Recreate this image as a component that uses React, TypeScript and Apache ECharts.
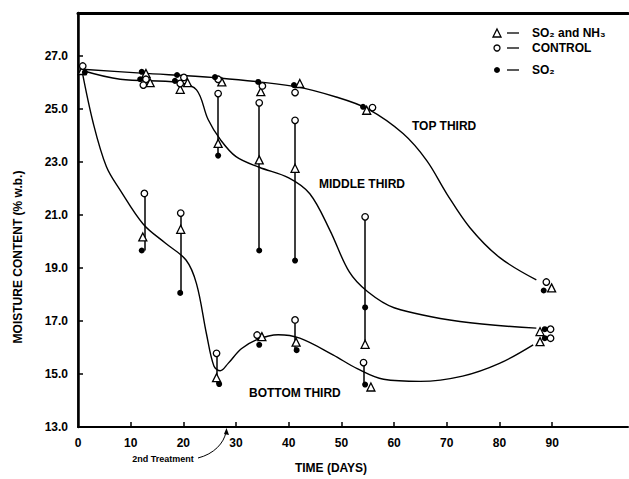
import React, { useEffect, useRef } from "react";
import * as echarts from "echarts";

// ---------- data (days, moisture % w.b.) ----------
const xTickValues = [0, 10, 20, 30, 40, 50, 60, 70, 80, 90];
const yTickValues = [13, 15, 17, 19, 21, 23, 25, 27];

// Top third markers (first point = day 0, shared start)
const topControl = [[0.9, 26.62], [12.9, 26.12], [20.1, 26.19], [26.6, 26.12], [35.0, 25.87], [41.2, 25.62], [55.9, 25.05], [88.9, 18.47]];
const topNH3 = [[0.8, 26.45], [12.9, 26.34], [20.8, 25.99], [27.3, 26.02], [34.7, 25.65], [42.1, 25.96], [54.8, 24.95], [89.9, 18.25]];
const topSO2 = [[1.3, 26.38], [12.1, 26.4], [18.8, 26.28], [26.0, 26.2], [34.2, 26.02], [41.0, 25.9], [54.1, 25.08], [88.4, 18.15]];

// Middle third markers
const midControl = [[12.4, 25.9], [19.4, 25.96], [26.6, 25.58], [34.4, 25.23], [41.2, 24.57], [54.5, 20.93], [89.7, 16.69]];
const midNH3 = [[13.7, 25.99], [19.4, 25.74], [26.6, 23.7], [34.4, 23.08], [41.2, 22.76], [54.5, 16.12], [87.7, 16.6]];
const midSO2 = [[11.8, 26.12], [18.4, 26.06], [26.6, 23.24], [34.4, 19.66], [41.2, 19.28], [54.5, 17.51], [88.6, 16.69]];

// Bottom third markers
const botControl = [[12.6, 21.81], [19.5, 21.07], [26.3, 15.78], [34.0, 16.47], [41.2, 17.04], [54.2, 15.43], [89.7, 16.35]];
const botNH3 = [[12.3, 20.17], [19.5, 20.46], [26.3, 14.86], [34.9, 16.41], [41.4, 16.2], [55.6, 14.51], [87.7, 16.22]];
const botSO2 = [[12.1, 19.66], [19.4, 18.06], [26.8, 14.62], [34.4, 16.1], [41.5, 15.9], [54.5, 14.6], [88.6, 16.35]];

// which measurement days carry a vertical range bar
const midBarIdx = [2, 3, 4, 5];
const botBarIdx = [0, 1, 2, 4, 5];

// hand-drawn trend curves
const topCurve = [[0.8, 26.5], [12, 26.35], [26, 26.18], [41, 25.85], [49, 25.45], [55, 25.0], [61.7, 24.07], [66.2, 23.05], [70, 21.8], [74.4, 20.52], [80, 19.4], [87, 18.55]];
const midCurve = [[0.8, 26.45], [8, 26.12], [19, 26.0], [22.5, 25.72], [24.7, 24.6], [27, 23.85], [30, 23.2], [34.4, 22.8], [40, 22.4], [44, 21.8], [47.8, 20.43], [51.5, 18.85], [55, 18.1], [60, 17.5], [72.5, 16.98], [87, 16.73]];
const botCurve = [[0.7, 26.5], [2.9, 24.46], [5.4, 22.82], [8, 21.94], [12.4, 20.65], [16.5, 19.95], [20.5, 19.3], [22.5, 18.4], [24.4, 16.5], [25.8, 15.3], [27, 15.12], [28.5, 15.4], [31, 15.95], [34, 16.3], [38, 16.48], [42.1, 16.35], [48.4, 15.72], [53, 15.2], [58, 14.8], [65, 14.72], [73, 14.92], [80, 15.4], [86.4, 16.1]];

const FONT = '"Liberation Sans", Arial, sans-serif';

function bars(ctrl: number[][], nh3: number[][], so2: number[][], idx: number[]) {
  return idx.map((i) => {
    const vals = [ctrl[i][1], nh3[i][1], so2[i][1]];
    return { coords: [[ctrl[i][0], Math.max(...vals)], [ctrl[i][0], Math.min(...vals)]] };
  });
}

function txt(text: string, x: number, y: number, size: number, align = "left", rotation = 0) {
  return {
    type: "text",
    x,
    y,
    rotation,
    silent: true,
    style: {
      text,
      fill: "#000",
      font: `bold ${size}px ${FONT}`,
      textAlign: align,
      align,
      textVerticalAlign: "middle",
      verticalAlign: "middle",
    },
  };
}

export default function App() {
  const ref = useRef<HTMLDivElement>(null);
  useEffect(() => {
    const chart = echarts.init(ref.current!, null, { renderer: "svg" });
    const curveSeries = (data: number[][]) => ({
      type: "line",
      data,
      smooth: 0.35,
      symbol: "none",
      lineStyle: { color: "#000", width: 1.4 },
      z: 1,
      silent: true,
    });
    const option: any = {
      animation: false,
      backgroundColor: "#fff",
      grid: { left: 78, right: 1, top: 13, bottom: 52 },
      xAxis: [
        {
          type: "value",
          min: 0,
          max: 104.4,
          interval: 10,
          position: "bottom",
          axisLine: { lineStyle: { color: "#000", width: 2 } },
          axisTick: { inside: true, length: 5, customValues: xTickValues.slice(1), lineStyle: { color: "#000", width: 1.5 } },
          axisLabel: { customValues: xTickValues, color: "#000", fontWeight: "bold", fontSize: 12, fontFamily: FONT, margin: 10 },
          splitLine: { show: false },
        },
        {
          type: "value",
          min: 0,
          max: 104.4,
          position: "top",
          axisLine: { lineStyle: { color: "#000", width: 3 } },
          axisTick: { show: false },
          axisLabel: { show: false },
          splitLine: { show: false },
        },
      ],
      yAxis: [
        {
          type: "value",
          min: 13,
          max: 28.62,
          position: "left",
          axisLine: { lineStyle: { color: "#000", width: 2.5 } },
          axisTick: { inside: true, length: 5, customValues: yTickValues, lineStyle: { color: "#000", width: 1.5 } },
          axisLabel: {
            customValues: yTickValues,
            formatter: (v: number) => v.toFixed(1),
            color: "#000",
            fontWeight: "bold",
            fontSize: 12,
            fontFamily: FONT,
            margin: 10,
          },
          splitLine: { show: false },
        },
        {
          type: "value",
          min: 13,
          max: 28.62,
          position: "right",
          axisLine: { lineStyle: { color: "#000", width: 1.5 } },
          axisTick: { show: false },
          axisLabel: { show: false },
          splitLine: { show: false },
        },
      ],
      series: [
        curveSeries(topCurve),
        curveSeries(midCurve),
        curveSeries(botCurve),
        {
          type: "lines",
          coordinateSystem: "cartesian2d",
          data: [...bars(midControl, midNH3, midSO2, midBarIdx), ...bars(botControl, botNH3, botSO2, botBarIdx)],
          lineStyle: { color: "#000", width: 1.5, opacity: 1 },
          z: 2,
          silent: true,
        },
        {
          name: "SO₂ and NH₃",
          type: "scatter",
          data: [...topNH3, ...midNH3, ...botNH3],
          symbol: "triangle",
          symbolSize: 8,
          itemStyle: { color: "#fff", borderColor: "#000", borderWidth: 1.3, opacity: 1 },
          z: 3,
          silent: true,
        },
        {
          name: "CONTROL",
          type: "scatter",
          data: [...topControl, ...midControl, ...botControl],
          symbol: "circle",
          symbolSize: 6.5,
          itemStyle: { color: "#fff", borderColor: "#000", borderWidth: 1.3, opacity: 1 },
          z: 3,
          silent: true,
        },
        {
          name: "SO₂",
          type: "scatter",
          data: [...topSO2, ...midSO2, ...botSO2],
          symbol: "circle",
          symbolSize: 6,
          itemStyle: { color: "#000", opacity: 1 },
          z: 4,
          silent: true,
        },
      ],
      graphic: [
        // legend
        { type: "polygon", silent: true, shape: { points: [[497, 29], [501, 37], [493, 37]] }, style: { fill: "#fff", stroke: "#000", lineWidth: 1.3 } },
        { type: "line", silent: true, shape: { x1: 507, y1: 33, x2: 519, y2: 33 }, style: { stroke: "#000", lineWidth: 1.3 } },
        txt("SO₂ and NH₃", 532, 33, 12),
        { type: "circle", silent: true, shape: { cx: 497, cy: 48, r: 3 }, style: { fill: "#fff", stroke: "#000", lineWidth: 1.3 } },
        { type: "line", silent: true, shape: { x1: 507, y1: 48, x2: 519, y2: 48 }, style: { stroke: "#000", lineWidth: 1.3 } },
        txt("CONTROL", 532, 48, 12),
        { type: "circle", silent: true, shape: { cx: 497, cy: 70, r: 3 }, style: { fill: "#000" } },
        { type: "line", silent: true, shape: { x1: 507, y1: 70, x2: 519, y2: 70 }, style: { stroke: "#000", lineWidth: 1.3 } },
        txt("SO₂", 532, 70, 12),
        // curve labels
        txt("TOP THIRD", 412, 126, 12),
        txt("MIDDLE THIRD", 319, 184, 12),
        txt("BOTTOM THIRD", 249, 393, 12),
        // axis titles
        txt("MOISTURE CONTENT (% w.b.)", 18, 257, 12, "center", Math.PI / 2),
        txt("TIME (DAYS)", 331, 468, 12, "center"),
        // 2nd treatment annotation
        txt("2nd Treatment", 163, 459, 9, "center"),
        {
          type: "bezierCurve",
          silent: true,
          shape: { x1: 198, y1: 458, x2: 226, y2: 432, cpx1: 214, cpy1: 454, cpx2: 224, cpy2: 443 },
          style: { stroke: "#000", lineWidth: 1, fill: null },
        },
        { type: "polygon", silent: true, shape: { points: [[226.5, 428], [229, 435], [224, 434]] }, style: { fill: "#000" } },
      ],
    };
    chart.setOption(option);
    return () => chart.dispose();
  }, []);
  return (
    <div
      ref={ref}
      style={{ position: "absolute", left: 0, top: 0, width: 629, height: 479, background: "#fff" }}
    />
  );
}
